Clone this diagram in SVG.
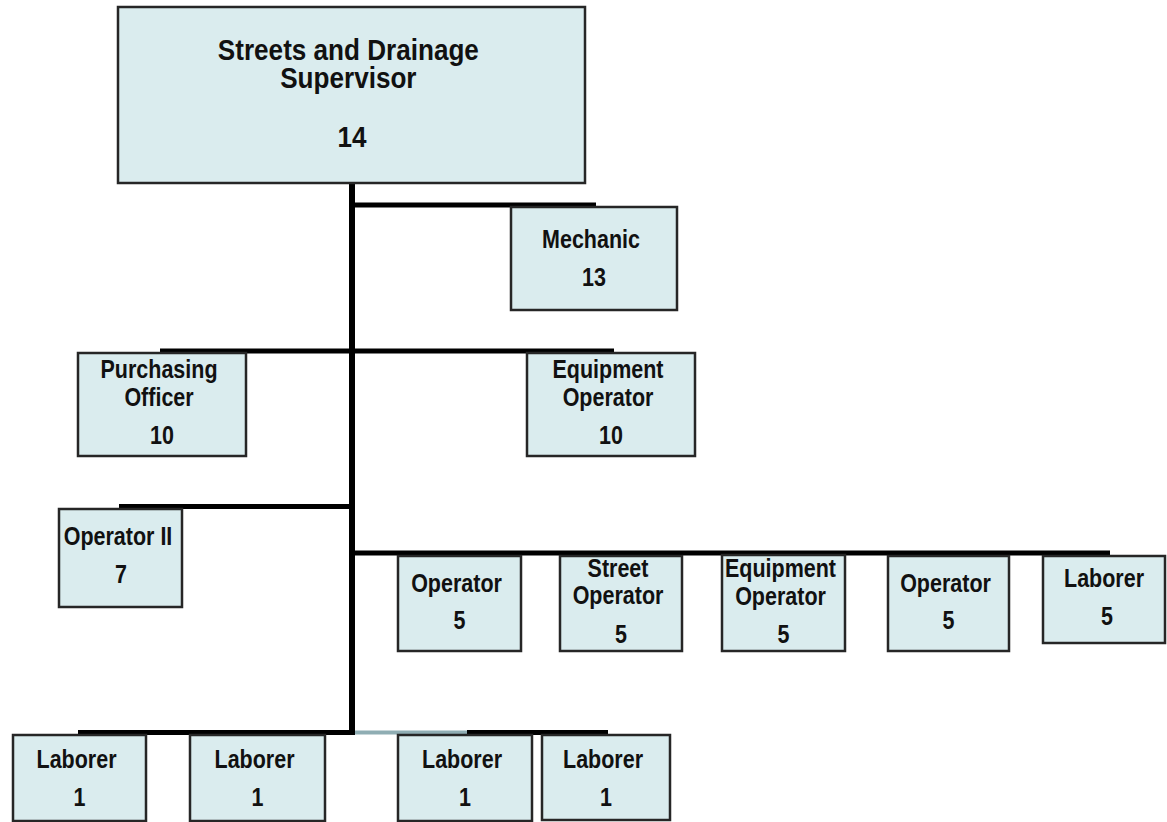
<svg xmlns="http://www.w3.org/2000/svg" width="1167" height="822" viewBox="0 0 1167 822">
  <style>
    .box { fill: #daecee; stroke: #262626; stroke-width: 2.5; }
    .lbl { font-family: "Liberation Sans", Arial, sans-serif; font-weight: bold; font-size: 25px; fill: #111; text-anchor: middle; }
    .big { font-size: 29px; }
    .wire { stroke: #000; stroke-width: 5; fill: none; }
  </style>
  <rect width="1167" height="822" fill="#fff"/>

  <!-- reporting lines -->
  <g id="connectors">
    <line class="wire" x1="352" y1="183" x2="352" y2="733" style="stroke-width:6"/>
    <line class="wire" x1="352" y1="205" x2="596" y2="205"/>
    <line class="wire" x1="160" y1="351" x2="614" y2="351"/>
    <line class="wire" x1="119" y1="506.5" x2="352" y2="506.5"/>
    <line class="wire" x1="352" y1="553" x2="1110" y2="553"/>
    <line class="wire" x1="78" y1="732.5" x2="355" y2="732.5"/>
    <line class="wire" x1="355" y1="732.5" x2="467" y2="732.5" style="stroke:#8fadb3;stroke-width:4"/>
    <line class="wire" x1="467" y1="732.5" x2="608" y2="732.5"/>
  </g>

  <g id="supervisor">
    <rect class="box" x="118" y="7" width="467" height="176"/>
    <text class="lbl big" transform="translate(352,0) scale(0.9,1)">
      <tspan x="0" y="60">Streets and Drainage</tspan>
      <tspan x="0" y="88.5">Supervisor</tspan>
      <tspan x="0" y="147">14</tspan>
    </text>
  </g>

  <g id="mechanic">
    <rect class="box" x="511" y="207" width="166" height="103"/>
    <text class="lbl" transform="translate(594,0) scale(0.86,1)">
      <tspan x="0" y="248">Mechanic</tspan>
      <tspan x="0" y="286">13</tspan>
    </text>
  </g>

  <g id="purchasing-officer">
    <rect class="box" x="78" y="353" width="168" height="103"/>
    <text class="lbl" transform="translate(162,0) scale(0.86,1)">
      <tspan x="0" y="378">Purchasing</tspan>
      <tspan x="0" y="406">Officer</tspan>
      <tspan x="0" y="444">10</tspan>
    </text>
  </g>

  <g id="equipment-operator-10">
    <rect class="box" x="527" y="353" width="168" height="103"/>
    <text class="lbl" transform="translate(611,0) scale(0.86,1)">
      <tspan x="0" y="378">Equipment</tspan>
      <tspan x="0" y="406">Operator</tspan>
      <tspan x="0" y="444">10</tspan>
    </text>
  </g>

  <g id="operator-ii">
    <rect class="box" x="59" y="509" width="123" height="98"/>
    <text class="lbl" transform="translate(121,0) scale(0.86,1)">
      <tspan x="0" y="545">Operator II</tspan>
      <tspan x="0" y="583">7</tspan>
    </text>
  </g>

  <g id="operator-5a">
    <rect class="box" x="398" y="556" width="123" height="95"/>
    <text class="lbl" transform="translate(459.5,0) scale(0.86,1)">
      <tspan x="0" y="592">Operator</tspan>
      <tspan x="0" y="629">5</tspan>
    </text>
  </g>

  <g id="street-operator">
    <rect class="box" x="560" y="556" width="122" height="95"/>
    <text class="lbl" transform="translate(621,0) scale(0.86,1)">
      <tspan x="0" y="577">Street</tspan>
      <tspan x="0" y="604">Operator</tspan>
      <tspan x="0" y="643">5</tspan>
    </text>
  </g>

  <g id="equipment-operator-5">
    <rect class="box" x="722" y="555" width="123" height="96"/>
    <text class="lbl" transform="translate(783.5,0) scale(0.86,1)">
      <tspan x="0" y="577">Equipment</tspan>
      <tspan x="0" y="605">Operator</tspan>
      <tspan x="0" y="643">5</tspan>
    </text>
  </g>

  <g id="operator-5b">
    <rect class="box" x="888" y="556" width="121" height="95"/>
    <text class="lbl" transform="translate(948.5,0) scale(0.86,1)">
      <tspan x="0" y="592">Operator</tspan>
      <tspan x="0" y="629">5</tspan>
    </text>
  </g>

  <g id="laborer-5">
    <rect class="box" x="1043" y="556" width="122" height="87"/>
    <text class="lbl" transform="translate(1107,0) scale(0.86,1)">
      <tspan x="0" y="587">Laborer</tspan>
      <tspan x="0" y="625">5</tspan>
    </text>
  </g>

  <g id="laborer-1a">
    <rect class="box" x="13" y="735" width="133" height="86"/>
    <text class="lbl" transform="translate(79.5,0) scale(0.86,1)">
      <tspan x="0" y="768">Laborer</tspan>
      <tspan x="0" y="806">1</tspan>
    </text>
  </g>

  <g id="laborer-1b">
    <rect class="box" x="190" y="735" width="135" height="86"/>
    <text class="lbl" transform="translate(257.5,0) scale(0.86,1)">
      <tspan x="0" y="768">Laborer</tspan>
      <tspan x="0" y="806">1</tspan>
    </text>
  </g>

  <g id="laborer-1c">
    <rect class="box" x="398" y="735" width="134" height="86"/>
    <text class="lbl" transform="translate(465,0) scale(0.86,1)">
      <tspan x="0" y="768">Laborer</tspan>
      <tspan x="0" y="806">1</tspan>
    </text>
  </g>

  <g id="laborer-1d">
    <rect class="box" x="542" y="735" width="128" height="85"/>
    <text class="lbl" transform="translate(606,0) scale(0.86,1)">
      <tspan x="0" y="768">Laborer</tspan>
      <tspan x="0" y="806">1</tspan>
    </text>
  </g>
</svg>
